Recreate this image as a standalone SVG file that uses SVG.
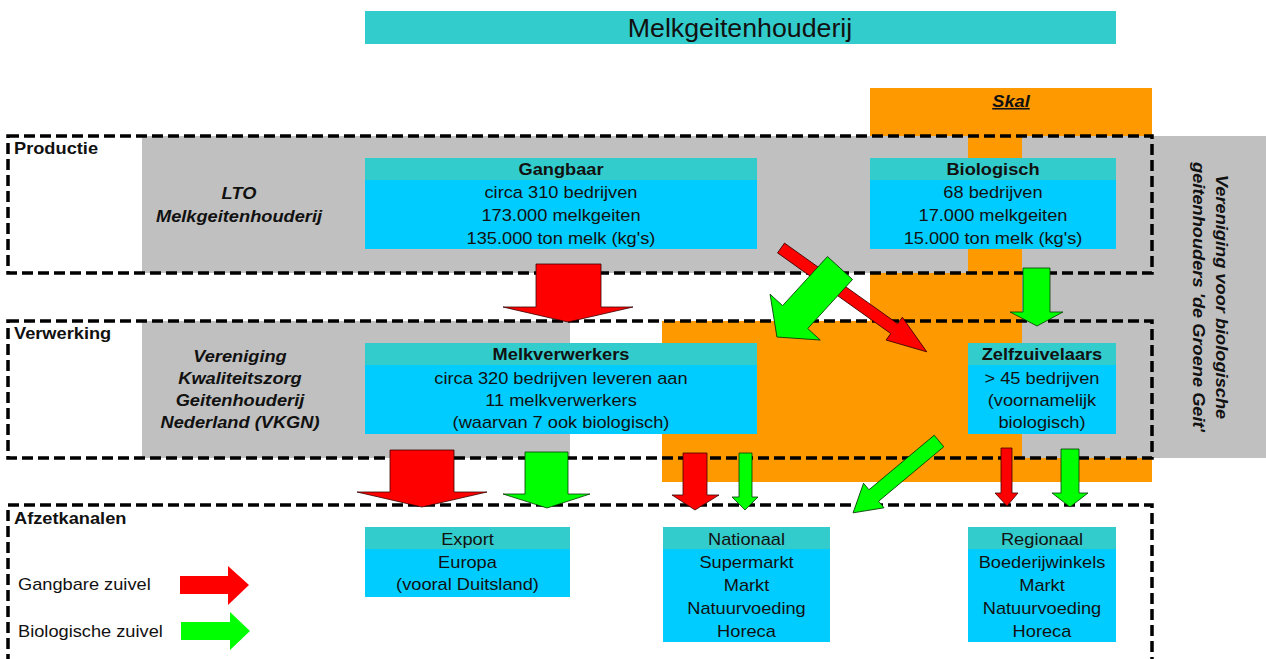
<svg xmlns="http://www.w3.org/2000/svg" width="1266" height="659" viewBox="0 0 1266 659">
<style>
.gray{fill:#C0C0C0}
.orange{fill:#FF9900}
.hdr{fill:#33CCCC}
.bd{fill:#00CCFF}
.t{font-family:"Liberation Sans",Arial,sans-serif;font-size:16px;fill:#111;text-anchor:middle}
.l{text-anchor:start}
.b{font-weight:bold}
.bi{font-weight:bold;font-style:italic}
.dash{fill:none;stroke:#000;stroke-width:3.5;stroke-dasharray:11 5}
.red{fill:#FF0000;stroke:#3a0000;stroke-width:0.8}
.green{fill:#00FF00;stroke:#003a00;stroke-width:0.8}
.lr{fill:#FF0000}
.lg{fill:#00FF00}
</style>
<rect width="1266" height="659" fill="#FFFFFF"/>
<g id="background">
<rect class="gray" x="142" y="136" width="1124" height="137"/>
<rect class="gray" x="1022" y="136" width="244" height="322"/>
<rect class="gray" x="142" y="321" width="428" height="137"/>
<rect class="orange" x="870" y="88" width="282" height="48"/>
<rect class="orange" x="968" y="136" width="54" height="137"/>
<rect class="orange" x="870" y="273" width="152" height="48"/>
<rect class="orange" x="662" y="321" width="360" height="137"/>
<rect class="orange" x="662" y="458" width="490" height="24"/>
</g>
<g id="title">
<rect class="hdr" x="365" y="11" width="751" height="33"/>
<text class="t" x="740" y="37" style="font-size:25px" transform="matrix(1.07 0 0 1 -51.8 0)">Melkgeitenhouderij</text>
</g>
<g id="skal">
<text class="t bi" x="1011" y="107" text-decoration="underline" transform="matrix(1.14 0 0 1 -141.54 0)">Skal</text>
</g>
<g id="vbg">
<text class="t bi" transform="translate(1216,297) rotate(90) scale(1.14,1)"><tspan x="0" y="0">Vereniging voor biologische</tspan><tspan x="0" y="23">geitenhouders 'de Groene Geit'</tspan></text>
</g>
<g id="sections">
<rect class="dash" x="8" y="136" width="1144" height="137"/>
<rect class="dash" x="8" y="321" width="1144" height="137"/>
<rect class="dash" x="8" y="505" width="1144" height="200"/>
<g transform="matrix(1.14 0 0 1 -1.96 0)">
<text class="t b l" x="14" y="154">Productie</text>
<text class="t b l" x="14" y="339">Verwerking</text>
<text class="t b l" x="14" y="524">Afzetkanalen</text>
</g>
</g>
<g id="lto">
<g transform="matrix(1.14 0 0 1 -33.46 0)">
<text class="t bi" x="239" y="199">LTO</text>
<text class="t bi" x="239" y="222">Melkgeitenhouderij</text>
</g>
</g>
<g id="vkgn">
<g transform="matrix(1.14 0 0 1 -33.6 0)">
<text class="t bi" x="240" y="362">Vereniging</text>
<text class="t bi" x="240" y="384">Kwaliteitszorg</text>
<text class="t bi" x="240" y="406">Geitenhouderij</text>
<text class="t bi" x="240" y="428">Nederland (VKGN)</text>
</g>
</g>
<g id="gangbaar">
<rect class="hdr" x="365" y="158" width="392" height="22"/>
<rect class="bd" x="365" y="180" width="392" height="69"/>
<g transform="matrix(1.14 0 0 1 -78.54 0)">
<text class="t b" x="561" y="175">Gangbaar</text>
<text class="t" x="561" y="198">circa 310 bedrijven</text>
<text class="t" x="561" y="221">173.000 melkgeiten</text>
<text class="t" x="561" y="244">135.000 ton melk (kg's)</text>
</g>
</g>
<g id="biologisch">
<rect class="hdr" x="870" y="158" width="246" height="22"/>
<rect class="bd" x="870" y="180" width="246" height="69"/>
<g transform="matrix(1.14 0 0 1 -139.02 0)">
<text class="t b" x="993" y="175">Biologisch</text>
<text class="t" x="993" y="198">68 bedrijven</text>
<text class="t" x="993" y="221">17.000 melkgeiten</text>
<text class="t" x="993" y="244">15.000 ton melk (kg's)</text>
</g>
</g>
<g id="melkverwerkers">
<rect class="hdr" x="365" y="343" width="392" height="22"/>
<rect class="bd" x="365" y="365" width="392" height="69"/>
<g transform="matrix(1.14 0 0 1 -78.54 0)">
<text class="t b" x="561" y="360">Melkverwerkers</text>
<text class="t" x="561" y="384">circa 320 bedrijven leveren aan</text>
<text class="t" x="561" y="406">11 melkverwerkers</text>
<text class="t" x="561" y="428">(waarvan 7 ook biologisch)</text>
</g>
</g>
<g id="zelfzuivelaars">
<rect class="hdr" x="968" y="343" width="148" height="22"/>
<rect class="bd" x="968" y="365" width="148" height="69"/>
<g transform="matrix(1.14 0 0 1 -145.88 0)">
<text class="t b" x="1042" y="360">Zelfzuivelaars</text>
<text class="t" x="1042" y="384">&gt; 45 bedrijven</text>
<text class="t" x="1042" y="406">(voornamelijk</text>
<text class="t" x="1042" y="428">biologisch)</text>
</g>
</g>
<g id="export">
<rect class="hdr" x="365" y="527" width="205" height="22"/>
<rect class="bd" x="365" y="549" width="205" height="48"/>
<g transform="matrix(1.14 0 0 1 -65.45 0)">
<text class="t" x="467.5" y="545">Export</text>
<text class="t" x="467.5" y="568">Europa</text>
<text class="t" x="467.5" y="590">(vooral Duitsland)</text>
</g>
</g>
<g id="nationaal">
<rect class="hdr" x="663" y="527" width="167" height="22"/>
<rect class="bd" x="663" y="549" width="167" height="93"/>
<g transform="matrix(1.14 0 0 1 -104.51 0)">
<text class="t" x="746.5" y="545">Nationaal</text>
<text class="t" x="746.5" y="568">Supermarkt</text>
<text class="t" x="746.5" y="591">Markt</text>
<text class="t" x="746.5" y="614">Natuurvoeding</text>
<text class="t" x="746.5" y="637">Horeca</text>
</g>
</g>
<g id="regionaal">
<rect class="hdr" x="968" y="527" width="148" height="22"/>
<rect class="bd" x="968" y="549" width="148" height="93"/>
<g transform="matrix(1.14 0 0 1 -145.88 0)">
<text class="t" x="1042" y="545">Regionaal</text>
<text class="t" x="1042" y="568">Boederijwinkels</text>
<text class="t" x="1042" y="591">Markt</text>
<text class="t" x="1042" y="614">Natuurvoeding</text>
<text class="t" x="1042" y="637">Horeca</text>
</g>
</g>
<g id="legend">
<polygon class="lr" points="180,576 228,576 228,566 249,585 228,605 228,594 180,594"/>
<polygon class="lg" points="181,622 230,622 230,612 250,631 230,650 230,640 181,640"/>
<g transform="matrix(1.14 0 0 1 -2.52 0)">
<text class="t l" x="18" y="590">Gangbare zuivel</text>
<text class="t l" x="18" y="637">Biologische zuivel</text>
</g>
</g>
<g id="connectors">
<polygon class="red" points="536,264 601,264 601,307 633,307 568,322 503,307 536,307"/>
<polygon class="red" points="390,450 454,450 454,492 487,492 422,507 357,492 390,492"/>
<polygon class="green" points="525,452 568,452 568,494 590,494 547,508 503,494 525,494"/>
<polygon class="red" points="683,453 707,453 707,495 719,495 695,510 672,495 683,495"/>
<polygon class="green" points="739,453 752,453 752,497 758,497 745,510 732,497 739,497"/>
<polygon class="red" points="1001,448 1012,448 1012,493 1018,493 1007,506 995,493 1001,493"/>
<polygon class="green" points="1061,449 1079,449 1079,493 1088,493 1070,507 1052,493 1061,493"/>
<polygon class="green" points="1023,268 1050,268 1050,312 1063,312 1037,326 1010,312 1023,312"/>
<polygon class="red" transform="translate(781,248) rotate(35.46)" points="0,-6 139,-6 139,-14 179,0 139,14 139,6 0,6"/>
<polygon class="green" transform="translate(840,268) rotate(132.4)" points="0,-17 66.5,-17 66.5,-34 93.5,0 66.5,34 66.5,17 0,17"/>
<polygon class="green" transform="translate(939,441) rotate(140.1)" points="0,-7.5 85,-7.5 85,-16 112,0 85,16 85,7.5 0,7.5"/>
</g>
</svg>
